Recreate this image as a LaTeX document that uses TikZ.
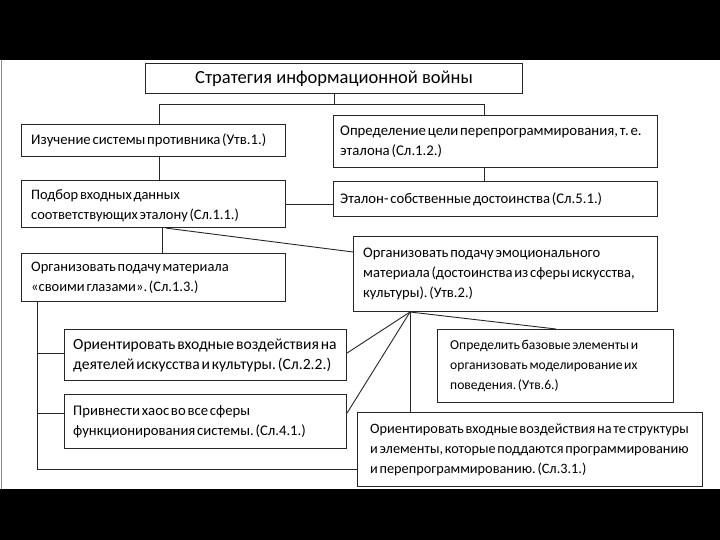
\documentclass[tikz,border=0pt]{standalone}
\usepackage{fontspec}
\setmainfont{Carlito}
\usetikzlibrary{calc}
\frenchspacing
\newcommand{\bfnt}[1]{\fontsize{#1bp}{20bp}\selectfont\spaceskip=0.12em\relax}
\tikzset{
  box/.style={draw=black!85, line width=1.1pt, anchor=north west, inner sep=0pt},
  txt/.style={anchor=west, align=left, inner sep=0pt},
  conn/.style={draw=black!85, line width=0.9pt}
}
\begin{document}
\begin{tikzpicture}[x=1bp,y=-1bp]
\useasboundingbox (0,0) rectangle (720,540);
\fill[black] (0,0) rectangle (720,540);
\fill[white] (0,60) rectangle (720,489);
\draw[black!45, line width=1pt] (1.5,60) -- (1.5,489);
% boxes
\node[box, minimum width=377bp, minimum height=30bp,
  font=\fontsize{18.5bp}{20bp}\selectfont] (title) at (145,63) {Стратегия информационной войны};
\node[box, minimum width=264bp, minimum height=32bp] (b2) at (21,124) {};
\node[box, minimum width=324bp, minimum height=52bp] (b3) at (333,115) {};
\node[box, minimum width=324bp, minimum height=35bp] (b4) at (333,181) {};
\node[box, minimum width=264bp, minimum height=47bp] (b5) at (21,180) {};
\node[box, minimum width=264bp, minimum height=48bp] (b6) at (21,253) {};
\node[box, minimum width=304bp, minimum height=75bp] (b7) at (353,236) {};
\node[box, minimum width=282bp, minimum height=51bp] (b8) at (64,329) {};
\node[box, minimum width=282bp, minimum height=54bp] (b9) at (64,394) {};
\node[box, minimum width=236bp, minimum height=73bp] (b10) at (437,329) {};
\node[box, minimum width=345bp, minimum height=74bp] (b11) at (357,412) {};
% texts
\node[txt, font=\bfnt{14.7}] (b2t) at ($(b2.west)+(10,0)$)
  {Изучение системы противника (Утв.1.)};
\node[txt, font=\bfnt{14.8}] (b3t) at ($(b3.west)+(7,0)$)
  {Определение цели перепрограммирования, т. е.\\эталона (Сл.1.2.)};
\node[txt, font=\bfnt{14.7}] (b4t) at ($(b4.west)+(7,0)$)
  {Эталон- собственные достоинства (Сл.5.1.)};
\node[txt, font=\bfnt{14.45}] (b5t) at ($(b5.west)+(10,2)$)
  {Подбор входных данных\\соответствующих эталону (Сл.1.1.)};
\node[txt, font=\bfnt{14.5}] (b6t) at ($(b6.west)+(10,0)$)
  {Организовать подачу материала\\«своими глазами». (Сл.1.3.)};
\node[txt, font=\bfnt{14.6}] (b7t) at ($(b7.west)+(10,0)$)
  {Организовать подачу эмоционального\\материала (достоинства из сферы искусства,\\культуры). (Утв.2.)};
\node[txt, font=\bfnt{15.6}] (b8t) at ($(b8.west)+(9,0)$)
  {Ориентировать входные воздействия на\\деятелей искусства и культуры. (Сл.2.2.)};
\node[txt, font=\bfnt{14.7}] (b9t) at ($(b9.west)+(9,0)$)
  {Привнести хаос во все сферы\\функционирования системы. (Сл.4.1.)};
\node[txt, font=\bfnt{13.6}] (b10t) at ($(b10.west)+(13,0)$)
  {Определить базовые элементы и\\организовать моделирование их\\поведения. (Утв.6.)};
\node[txt, font=\bfnt{14.3}] (b11t) at ($(b11.west)+(13,0)$)
  {Ориентировать входные воздействия на те структуры\\и элементы, которые поддаются программированию\\и перепрограммированию. (Сл.3.1.)};
% connectors
\coordinate (t1) at (159,104);
\coordinate (t2) at (484,104);
\coordinate (t3) at (162,0);
\coordinate (bus) at (37,0);
\coordinate (fan) at (410,312);
\draw[conn] (title.south) -- (title.south |- t1);
\draw[conn] (t1) -- (t2);
\draw[conn] (t1) -- (t1 |- b2.north);
\draw[conn] (t2) -- (t2 |- b3.north);
\draw[conn] (t1 |- b2.south) -- (t1 |- b5.north);
\draw[conn] (t2 |- b3.south) -- (t2 |- b4.north);
\draw[conn] (b5.east) -- (b5.east -| b4.west);
\draw[conn] (t3 |- b5.south) -- (t3 |- b6.north);
\draw[conn] (b5.south -| 166,0) -- ($(b7.north west)+(0,16)$);
\draw[conn] (bus |- b6.south) -- (37,469) -- (b11.west |- 0,469);
\draw[conn] (37,353) -- (b8.west |- 0,353);
\draw[conn] (37,413) -- (b9.west |- 0,413);
\draw[conn] (fan) -- (b8.east |- 0,353);
\draw[conn] (fan) -- (b9.east |- 0,413);
\draw[conn] (fan) -- (b10.north west -| 556,0);
\draw[conn] (fan) -- (fan |- b11.north);
\end{tikzpicture}
\end{document}
